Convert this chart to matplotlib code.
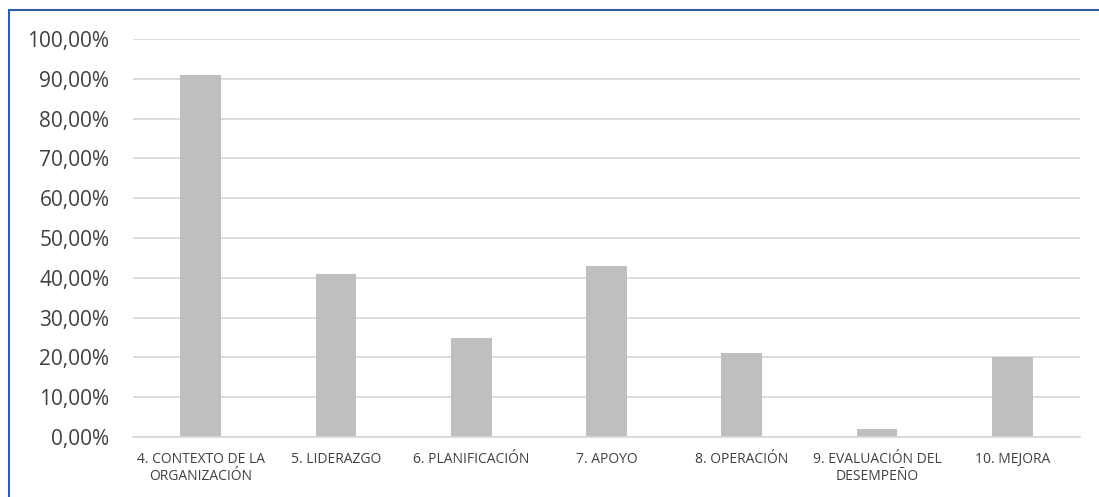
import matplotlib.pyplot as plt
import numpy as np
from matplotlib.patches import Rectangle
from matplotlib.ticker import FuncFormatter

categories = [
    "4. CONTEXTO DE LA\nORGANIZACIÓN",
    "5. LIDERAZGO",
    "6. PLANIFICACIÓN",
    "7. APOYO",
    "8. OPERACIÓN",
    "9. EVALUACIÓN DEL\nDESEMPEÑO",
    "10. MEJORA",
]
values = [0.91, 0.41, 0.25, 0.43, 0.21, 0.02, 0.20]
y_ticks = [0.0, 0.1, 0.2, 0.3, 0.4, 0.5, 0.6, 0.7, 0.8, 0.9, 1.0]

plt.rcParams['font.family'] = ['Open Sans', 'DejaVu Sans']
text_color = '#404040'

fig = plt.figure(figsize=(10.99, 4.97), dpi=100)
ax = fig.add_axes([133 / 1099, 1 - 437 / 497, (1080 - 133) / 1099, (437 - 39) / 497])

x = np.arange(len(categories))
ax.bar(x, values, width=0.30, color='#BFBFBF', edgecolor='none', zorder=2)

ax.set_xlim(-0.5, len(categories) - 0.5)
ax.set_ylim(0, 1.0)
ax.set_yticks(y_ticks)
ax.yaxis.set_major_formatter(FuncFormatter(lambda v, _: f"{v * 100:.2f}%".replace('.', ',')))
ax.tick_params(axis='y', length=0, pad=17, labelsize=15, labelcolor=text_color)

ax.set_xticks(x)
ax.set_xticklabels(categories, fontsize=10, color=text_color, linespacing=1.2)
ax.tick_params(axis='x', length=0, pad=11)

ax.grid(axis='y', color='#D9D9D9', linewidth=1.3, zorder=0)
ax.set_axisbelow(True)
for side in ['top', 'right', 'left']:
    ax.spines[side].set_visible(False)
ax.spines['bottom'].set_color('#D9D9D9')
ax.spines['bottom'].set_linewidth(1.3)

# blue chart border (top and left edges visible)
fig.patches.append(Rectangle((8.5 / 1099, -0.05), 1.2, 1 - 9.5 / 497 + 0.05,
                             transform=fig.transFigure, fill=False,
                             edgecolor='#2F5FA7', linewidth=1.5))

fig.savefig('out.png', dpi=100)
